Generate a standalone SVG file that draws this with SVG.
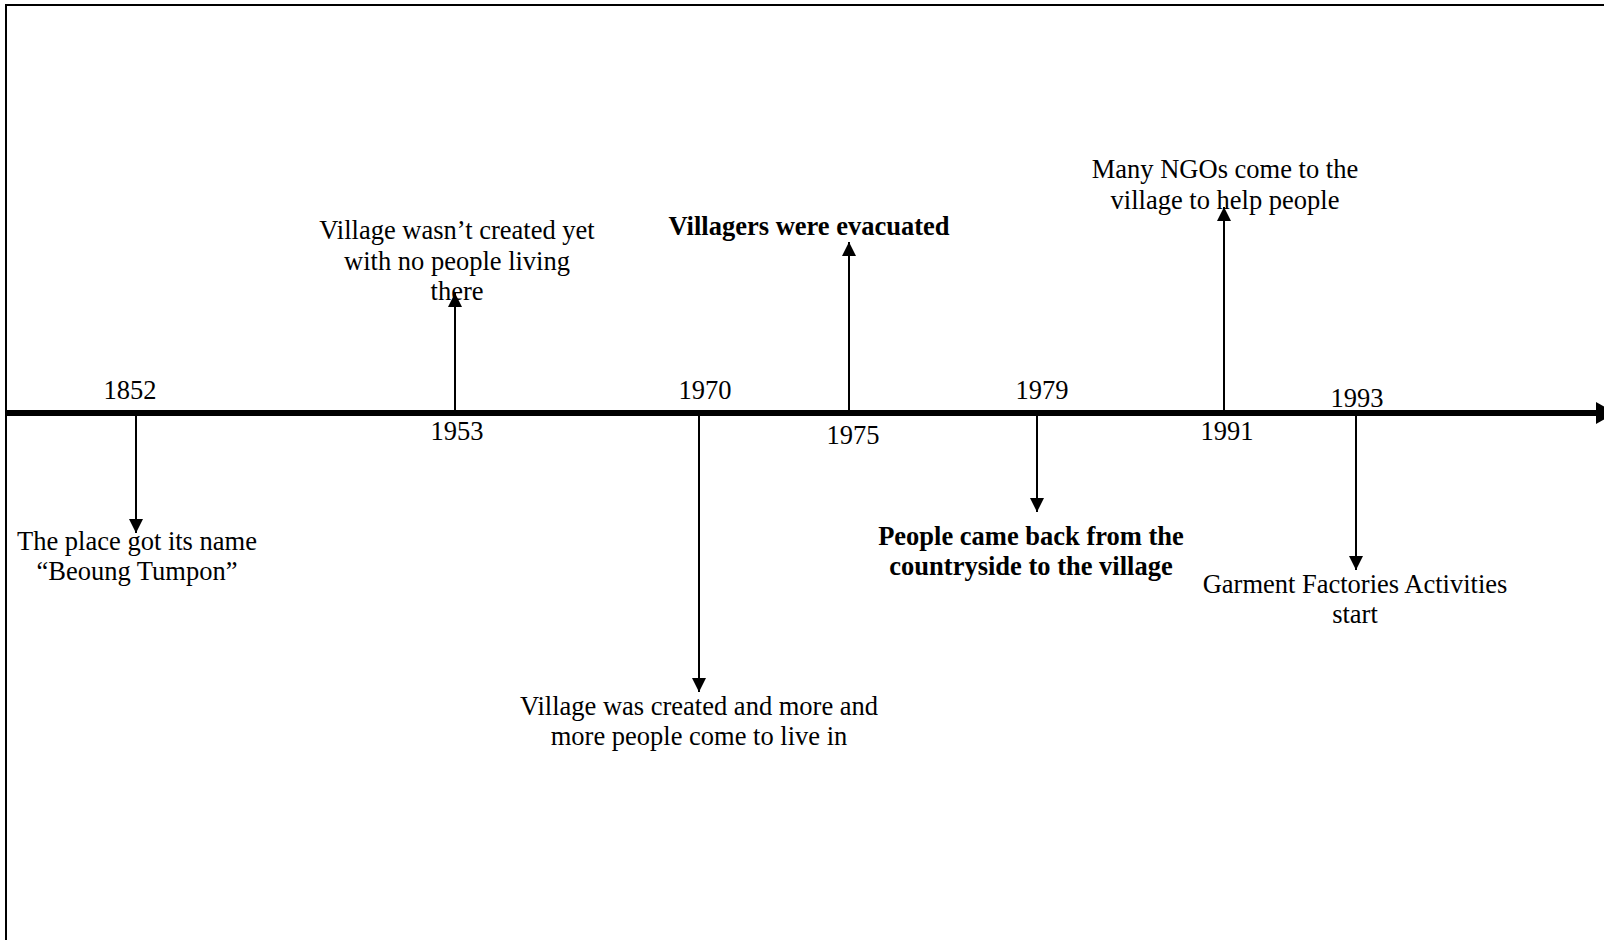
<svg xmlns="http://www.w3.org/2000/svg" width="1604" height="940" viewBox="0 0 1604 940">
<style>
text{font-family:"Liberation Serif","Times New Roman",serif;font-size:26.5px;fill:#000;text-anchor:middle}
.b{font-weight:bold}
.ev{stroke:#000;stroke-width:2;fill:none}
</style>
<defs>
<marker id="ah" markerUnits="userSpaceOnUse" markerWidth="14" markerHeight="14" refX="14" refY="7" orient="auto" viewBox="0 0 14 14">
<path d="M0,0 L14,7 L0,14 Z" fill="#000"/>
</marker>
<marker id="bigah" markerUnits="userSpaceOnUse" markerWidth="20" markerHeight="22" refX="20" refY="11" orient="auto" viewBox="0 0 20 22">
<path d="M0,0 L20,11 L0,22 Z" fill="#000"/>
</marker>
</defs>
<rect width="1604" height="940" fill="#fff"/>
<rect id="frame" x="6" y="5" width="1640" height="980" fill="none" stroke="#000" stroke-width="2"/>
<g id="connectors">
<line x1="6" y1="413" x2="1616" y2="413" stroke="#000" stroke-width="6" marker-end="url(#bigah)"/>
<line class="ev" x1="136" y1="416" x2="136" y2="533" marker-end="url(#ah)"/>
<line class="ev" x1="455" y1="410" x2="455" y2="293" marker-end="url(#ah)"/>
<line class="ev" x1="699" y1="416" x2="699" y2="692" marker-end="url(#ah)"/>
<line class="ev" x1="849" y1="410" x2="849" y2="242" marker-end="url(#ah)"/>
<line class="ev" x1="1037" y1="416" x2="1037" y2="512" marker-end="url(#ah)"/>
<line class="ev" x1="1224" y1="410" x2="1224" y2="207" marker-end="url(#ah)"/>
<line class="ev" x1="1356" y1="416" x2="1356" y2="570" marker-end="url(#ah)"/>
</g>
<g id="e1852">
<text x="130" y="399">1852</text>
<text x="137" y="550">The place got its name</text>
<text x="137" y="580">“Beoung Tumpon”</text>
</g>
<g id="e1953">
<text x="457" y="440">1953</text>
<text x="457" y="239">Village wasn’t created yet</text>
<text x="457" y="270">with no people living</text>
<text x="457" y="300">there</text>
</g>
<g id="e1970">
<text x="705" y="399">1970</text>
<text x="699" y="715">Village was created and more and</text>
<text x="699" y="745">more people come to live in</text>
</g>
<g id="e1975">
<text x="853" y="444">1975</text>
<text class="b" x="809" y="235">Villagers were evacuated</text>
</g>
<g id="e1979">
<text x="1042" y="399">1979</text>
<text class="b" x="1031" y="545">People came back from the</text>
<text class="b" x="1031" y="575">countryside to the village</text>
</g>
<g id="e1991">
<text x="1227" y="440">1991</text>
<text x="1225" y="178">Many NGOs come to the</text>
<text x="1225" y="209">village to help people</text>
</g>
<g id="e1993">
<text x="1357" y="407">1993</text>
<text x="1355" y="593">Garment Factories Activities</text>
<text x="1355" y="623">start</text>
</g>
</svg>
